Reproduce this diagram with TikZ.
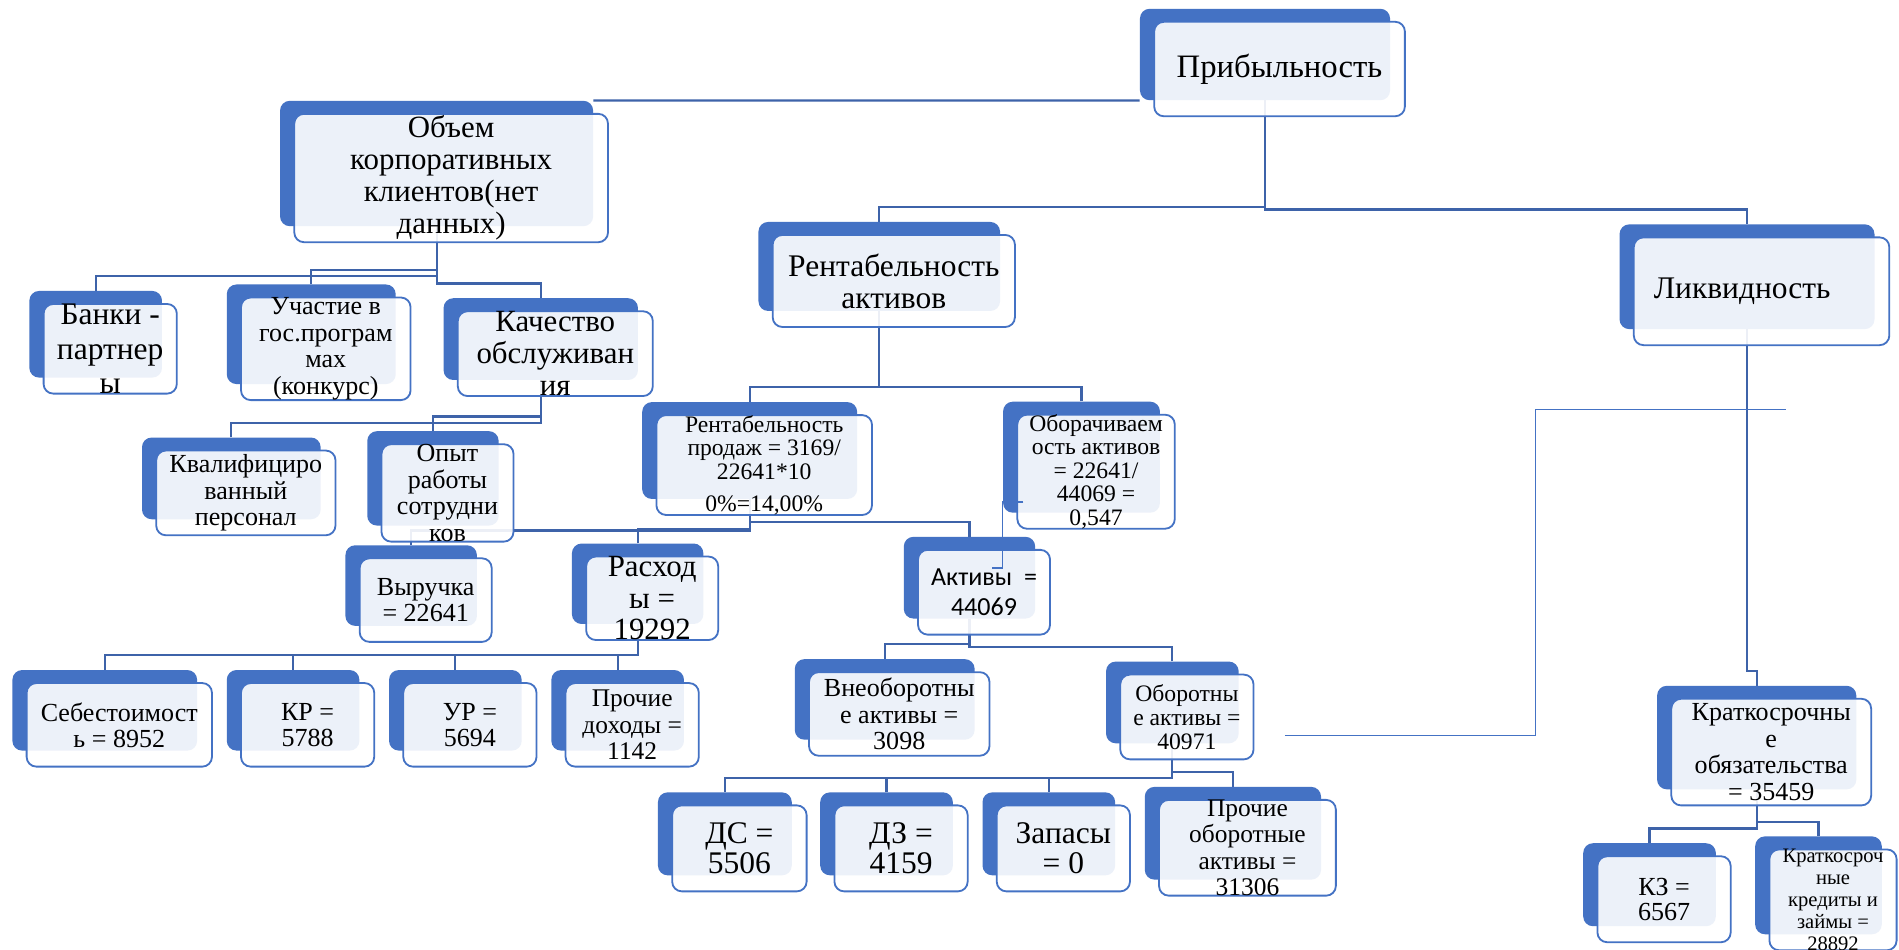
\documentclass[tikz,border=0pt]{standalone}
\usepackage{fontspec}
\setmainfont{Liberation Serif}
\newfontfamily\calibri{Carlito}
\usepackage{xcolor}
\usetikzlibrary{calc, fit}
\definecolor{accent}{HTML}{4472C4}
\definecolor{lien}{HTML}{3E63A9}
\pgfdeclarelayer{fond}
\pgfdeclarelayer{liens}
\pgfdeclarelayer{dos}
\pgfsetlayers{fond,liens,dos,main}

\begin{document}
\begin{tikzpicture}[
    x=1pt, y=-1pt,
    box/.style 2 args={draw=accent, line width=1.5pt, rounded corners=8pt, fill=white, fill opacity=0.9, text opacity=1,
                       align=center, inner sep=0pt, minimum width=#1, minimum height=#2},
    back/.style={fill=accent, rounded corners=8pt, inner sep=0pt},
    fs/.style 2 args={font=\fontsize{#1}{#2}\selectfont},
    conn/.style={draw=lien, line width=1.8pt},
    fine/.style={draw=accent, line width=0.9pt},
]

% --- Fond et cadre ---
\begin{pgfonlayer}{fond}
\fill[white] (0,0) rectangle (1568,784);
\end{pgfonlayer}
\useasboundingbox (0,0) rectangle (1568,784);

% --- Niveau 1 ---
\node[box={207pt}{78pt}, fs={27}{31}] (prib) at (1056.5, 57) {Прибыльность};

% --- Niveau 2 ---
\node[box={259pt}{106pt}, fs={25.5}{26.5}] (obem) at (372.5, 147) {Объем\\корпоративных\\клиентов(нет\\данных)};
\node[box={200pt}{76pt}, fs={26}{26.5}] (rentakt) at (738, 232) {Рентабельность\\активов};
\node[box={211pt}{89pt}, fs={26}{28}] (likv) at (1454.5, 240.5) {Ликвидность\hspace*{32pt}};

% --- Branche gauche : clients ---
\node[box={110pt}{70pt}, fs={26}{28.5}] (banki) at (91, 288) {Банки -\\партнер\\ы};
\node[box={140pt}{70pt}, fs={21.5}{22}] (uchast) at (269, 288) {Участие в\\гос.програм\\мах\\(конкурс)};
\node[box={161pt}{70pt}, fs={25.5}{26.5}] (kach) at (458.5, 292) {Качество\\обслуживан\\ия};
\node[box={148pt}{70pt}, fs={21.5}{22}] (kval) at (203, 407) {Квалифициро\\ванный\\персонал};
\node[box={109pt}{70pt}, fs={21.5}{22}] (opyt) at (369.5, 407) {Опыт\\работы\\сотрудни\\ков};

% --- Branche rentabilite ---
\node[box={178pt}{80pt}, fs={19.5}{19.5}] (rprod) at (631, 384) {Рентабельность\\продаж = 3169/\\22641*10\\[7pt]0\%=14,00\%};
\node[box={130pt}{89pt}, fs={19.5}{19.3}] (oborach) at (905, 389.5) {Оборачиваем\\ость активов\\= 22641/\\44069 =\\0,547};
\node[box={109pt}{69pt}, fs={21.5}{22}] (vyr) at (351.5, 495.5) {Выручка\\= 22641};
\node[box={109pt}{68pt}, fs={25.5}{26}] (rash) at (538.5, 494) {Расход\\ы =\\19292};
\node[box={109pt}{70pt}, fs={21.5}{24}] (aktiv) at (812.5, 489) {\calibri Активы~ =\\\calibri 44069};

\node[box={153pt}{69pt}, fs={21.5}{21.5}] (sebest) at (98.5, 598.5) {Себестоимост\\ь = 8952};
\node[box={110pt}{69pt}, fs={21.5}{21.5}] (kr) at (254, 598.5) {КР =\\5788};
\node[box={110pt}{69pt}, fs={21.5}{21.5}] (ur) at (388, 598.5) {УР =\\5694};
\node[box={110pt}{69pt}, fs={21}{22}] (prochd) at (522, 598.5) {Прочие\\доходы =\\1142};

\node[box={149pt}{69pt}, fs={21.5}{22}] (vneob) at (742.5, 589.5) {Внеоборотны\\е активы =\\3098};
\node[box={110pt}{70pt}, fs={19.5}{20}] (obor) at (980, 592) {Оборотны\\е активы =\\40971};
\node[box={111pt}{71pt}, fs={26}{25}] (ds) at (610.5, 700.5) {ДС =\\5506};
\node[box={110pt}{71pt}, fs={26}{25}] (dz) at (744, 700.5) {ДЗ =\\4159};
\node[box={110pt}{71pt}, fs={26}{25}] (zap) at (878, 700.5) {Запасы\\= 0};
\node[box={146pt}{70pt}, fs={21}{21.7}] (proob) at (1030, 700) {Прочие\\оборотные\\активы =\\31306};

% --- Branche liquidite ---
\node[box={165pt}{88pt}, fs={21.5}{22}] (ksobyaz) at (1462.5, 621) {Краткосрочны\\е\\обязательства\\= 35459};
\node[box={110pt}{71pt}, fs={21.5}{21}] (kz) at (1374, 742.5) {КЗ =\\6567};
\node[box={105pt}{70pt}, fs={17}{18}] (kskred) at (1513.5, 743) {Краткосроч\\ные\\кредиты и\\займы =\\28892};

% --- Rectangles de fond (decales en haut a gauche) ---
\begin{pgfonlayer}{dos}
\foreach \n in {prib, obem, rentakt, likv, banki, uchast, kach, kval, opyt, rprod, oborach, vyr, rash, aktiv,
                sebest, kr, ur, prochd, vneob, obor, ds, dz, zap, proob, ksobyaz, kz, kskred} {
  \node[back, fit={($(\n.north west)+(-11,-10)$) ($(\n.south east)+(-13,-14)$)}] (\n-b) {};
}
\end{pgfonlayer}

% --- Liens hierarchiques ---
\begin{pgfonlayer}{liens}
\draw[conn] (obem-b.north east) -- (prib-b.south west);
\foreach \c in {rentakt, likv} { \draw[conn] (\c-b.north) -- ++(0,-12) -| (prib-b.south); }
\foreach \c in {banki, uchast, kach} { \draw[conn] (\c-b.north) -- ++(0,-12) -| (obem-b.south); }
\foreach \c in {kval, opyt} { \draw[conn] (\c-b.north) -- ++(0,-12) -| (kach-b.south); }
\foreach \c in {rprod, oborach} { \draw[conn] (\c-b.north) -- ++(0,-12) -| (rentakt-b.south); }
\foreach \c in {vyr, rash, aktiv} { \draw[conn] (\c-b.north) -- ++(0,-12) -| (rprod-b.south); }
\foreach \c in {sebest, kr, ur, prochd} { \draw[conn] (\c-b.north) -- ++(0,-12) -| (rash-b.south); }
\foreach \c in {vneob, obor} { \draw[conn] (\c-b.north) -- ++(0,-12) -| (aktiv-b.south); }
\foreach \c in {ds, dz, zap, proob} { \draw[conn] (\c-b.north) -- ++(0,-12) -| (obor-b.south); }
\foreach \c in {ksobyaz} { \draw[conn] (\c-b.north) -- ++(0,-12) -| (likv-b.south); }
\foreach \c in {kz, kskred} { \draw[conn] (\c-b.north) -- ++(0,-12) -| (ksobyaz-b.south); }
\end{pgfonlayer}

% --- Traits fins isoles ---
\coordinate (f1) at (845, 414.5);
\coordinate (f2) at (828, 469);
\coordinate (f3) at (819, 469);
\draw[fine] (f1) -| (f2) -- (f3);
\coordinate (g1) at (1061, 607);
\coordinate (g2) at (1268, 338);
\coordinate (g3) at (1475, 338);
\draw[fine] (g1) -| (g2) -- (g3);

\end{tikzpicture}
\end{document}
